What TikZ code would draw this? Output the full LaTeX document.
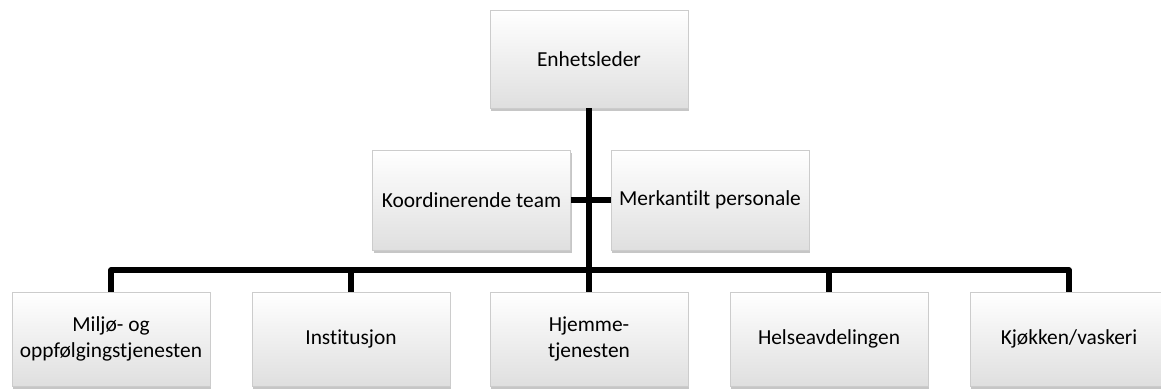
\documentclass[tikz,border=0pt]{standalone}
\usepackage{fontspec}
\setmainfont[Ligatures=NoCommon]{Carlito}
\usetikzlibrary{shadows}
\begin{document}
\begin{tikzpicture}[x=0.5pt,y=-0.5pt,
  orgbox/.style={draw=gray!40, line width=0.3pt, top color=white, bottom color=gray!25,
    minimum width=99pt, inner sep=2pt, align=center, font=\fontsize{10.7}{13}\selectfont,
    drop shadow={shadow xshift=0.6pt, shadow yshift=-1.3pt, opacity=0.45, fill=gray}},
  link/.style={line width=2.6pt, black}]
\useasboundingbox (0,0) rectangle (1161,389);
\node[orgbox, minimum height=49pt] (top) at (589,59) {Enhetsleder};
\node[orgbox, minimum height=50pt] (koord) at (471.5,200) {Koordinerende team};
\node[orgbox, minimum height=50pt] (merk) at (710,200) {Merkantilt personale};
\node[orgbox, minimum height=47pt] (b1) at (111,339) {Miljø- og\\oppfølgingstjenesten};
\node[orgbox, minimum height=47pt] (b2) at (351,339) {Institusjon};
\node[orgbox, minimum height=47pt] (b3) at (589,339) {Hjemme-\\tjenesten};
\node[orgbox, minimum height=47pt] (b4) at (829,339) {Helseavdelingen};
\node[orgbox, minimum height=47pt] (b5) at (1069,339) {Kjøkken/vaskeri};
\coordinate (jc) at (589,270);
\draw[link] (top.south) -- (jc);
\draw[link] (koord.east) -- (merk.west);
\draw[link, line join=round] (b1.north) |- (jc) -| (b5.north);
\draw[link] (b2.north) -- (b2.north |- jc);
\draw[link] (b3.north) -- (jc);
\draw[link] (b4.north) -- (b4.north |- jc);
\end{tikzpicture}
\end{document}
